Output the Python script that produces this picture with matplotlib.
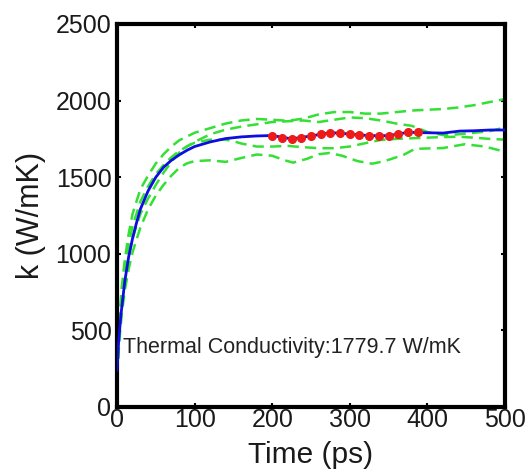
import numpy as np
import matplotlib
matplotlib.use("Agg")
import matplotlib.pyplot as plt

plt.rcParams['font.family'] = ['Liberation Sans', 'DejaVu Sans']

# Mean thermal conductivity (blue)
t_mean = [0, 2, 5, 10, 15, 20, 25, 30, 40, 50, 60, 70, 80, 90, 100, 120, 140, 160, 180, 200,
          225, 250, 275, 300, 325, 350, 375, 400, 420, 442, 460, 481, 500]
k_mean = [240, 420, 600, 820, 980, 1100, 1200, 1290, 1410, 1500, 1565, 1610, 1645, 1675, 1700,
          1730, 1752, 1763, 1769, 1772, 1750, 1769, 1791, 1782, 1771, 1771, 1793, 1790, 1788,
          1801, 1803, 1808, 1808]

# Individual runs (green dashed)
tA = [0, 3, 6, 10, 15, 20, 30, 40, 50, 60, 70, 80, 100, 120, 140, 160, 180, 200, 220, 240,
      260, 280, 300, 320, 340, 360, 380, 400, 420, 440, 460, 480, 500]
kA = [200, 560, 780, 960, 1130, 1260, 1420, 1510, 1590, 1650, 1700, 1740, 1790, 1820, 1850,
      1870, 1880, 1875, 1868, 1882, 1910, 1925, 1925, 1915, 1915, 1925, 1935, 1940, 1945,
      1955, 1970, 1990, 2010]

tB = [0, 3, 6, 10, 15, 20, 30, 40, 50, 60, 70, 80, 100, 120, 140, 160, 180, 200, 220, 240,
      260, 280, 300, 320, 340, 360, 380, 400, 420, 440, 460, 480, 500]
kB = [200, 520, 730, 900, 1060, 1180, 1340, 1440, 1520, 1580, 1630, 1670, 1730, 1780, 1810,
      1830, 1845, 1860, 1865, 1870, 1860, 1875, 1890, 1885, 1870, 1850, 1835, 1795, 1775,
      1780, 1790, 1800, 1825]

tC = [0, 3, 6, 10, 15, 20, 30, 40, 50, 60, 70, 80, 90, 100, 120, 140, 150, 160, 180, 200,
      220, 240, 260, 280, 300, 320, 340, 360, 380, 400, 420, 440, 460, 480, 500]
kC = [200, 470, 660, 820, 980, 1100, 1260, 1360, 1450, 1530, 1600, 1660, 1700, 1725, 1745,
      1745, 1735, 1720, 1700, 1700, 1704, 1696, 1689, 1689, 1700, 1722, 1743, 1750, 1754,
      1758, 1762, 1764, 1758, 1750, 1745]

tD = [0, 3, 6, 10, 15, 20, 30, 40, 50, 60, 70, 80, 90, 100, 120, 140, 160, 180, 200, 215,
      227, 245, 260, 274, 290, 310, 329, 345, 369, 384, 403, 420, 448, 474, 500]
kD = [200, 430, 600, 760, 900, 1010, 1170, 1290, 1380, 1450, 1510, 1560, 1590, 1605, 1610,
      1600, 1625, 1648, 1640, 1612, 1595, 1620, 1650, 1658, 1640, 1605, 1588, 1605, 1645,
      1685, 1688, 1690, 1715, 1700, 1666]

# Averaging window (red dots)
t_avg = [200, 212.5, 225, 237.5, 250, 262.5, 275, 287.5, 300, 312.5, 325, 337.5, 350, 362.5,
         375, 387.5]
k_avg = [1771, 1754, 1747, 1754, 1769, 1780, 1791, 1791, 1782, 1775, 1771, 1769, 1771, 1782,
         1793, 1797]

xticks = [0, 100, 200, 300, 400, 500]
yticks = [0, 500, 1000, 1500, 2000, 2500]
label_text = "Thermal Conductivity:1779.7 W/mK"

fig = plt.figure(figsize=(5.3, 4.74), dpi=100)
ax = fig.add_axes([0.2208, 0.1414, 0.732, 0.808])

green = '#33e033'
for t, k in [(tA, kA), (tB, kB), (tC, kC), (tD, kD)]:
    ax.plot(t, k, linestyle=(0, (4.5, 2.5)), color=green, lw=1.8, zorder=2)
ax.plot(t_mean, k_mean, color='#0d0de0', lw=2.0, zorder=3)
ax.plot(t_avg, k_avg, linestyle='none', color='#ee1a1a', marker='o', ms=5.5, zorder=4)

ax.set_xlim(0, 500)
ax.set_ylim(0, 2500)
ax.set_xticks(xticks)
ax.set_yticks(yticks)
ax.tick_params(direction='in', length=3, width=1.5, labelsize=18,
               top=True, right=True, colors='black', labelcolor='#1a1a1a')
ax.tick_params(axis='x', pad=1)
ax.tick_params(axis='y', pad=4)
for s in ax.spines.values():
    s.set_linewidth(3)

ax.set_xlabel('Time (ps)', fontsize=21.5, labelpad=6, color='#1a1a1a')
ax.set_ylabel('k (W/mK)', fontsize=22, labelpad=7, color='#1a1a1a')

ax.text(8, 385, label_text, fontsize=15.5, ha='left', va='center', color='#222222')

fig.savefig('out.png', dpi=100, facecolor='white')
